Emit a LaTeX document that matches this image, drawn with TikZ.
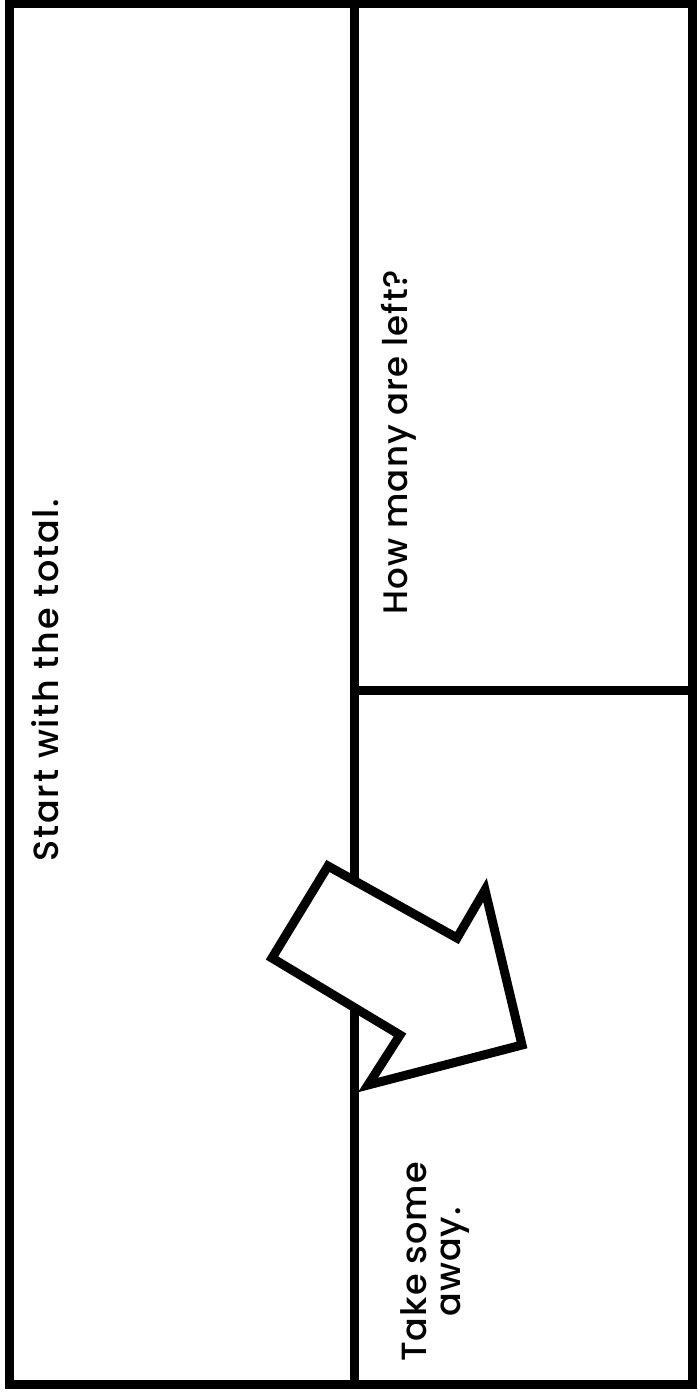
\documentclass[tikz,border=0pt]{standalone}
\usepackage{fontspec}
\setmainfont{Poppins}
\newfontfamily\lblfont{Poppins Medium}[LetterSpace=3]
\newfontfamily\lblwidefont{Poppins Medium}[LetterSpace=5]
\begin{document}
\begin{tikzpicture}[x=1pt,y=-1pt,
  frame/.style={line width=9pt, line join=miter},
  label/.style={rotate=90, font=\lblfont\fontsize{35}{34}\selectfont, inner sep=0pt, anchor=base},
  arrowshape/.style={line width=9pt, line join=miter, fill=white, draw=black}]
\useasboundingbox (0,0) rectangle (698,1395);
\draw[frame] (9,3) rectangle (692,1384);
\draw[frame] (354,3) -- (354,1384);
\draw[frame] (354,690) -- (692,690);
\draw[arrowshape] (328,866) -- (457,938) -- (485,890) -- (522,1045) -- (368,1085) -- (400,1035) -- (272,958) -- cycle;
\node[label, font=\lblwidefont\fontsize{35}{34}\selectfont] (start) at (58,680) {Start with the total.};
\node[label, font=\lblfont\fontsize{34}{34}\selectfont] (left) at (407,442) {How many are left?};
\node[label, align=center] (take) at (460,1262) {Take some\\away.};
\end{tikzpicture}
\end{document}
